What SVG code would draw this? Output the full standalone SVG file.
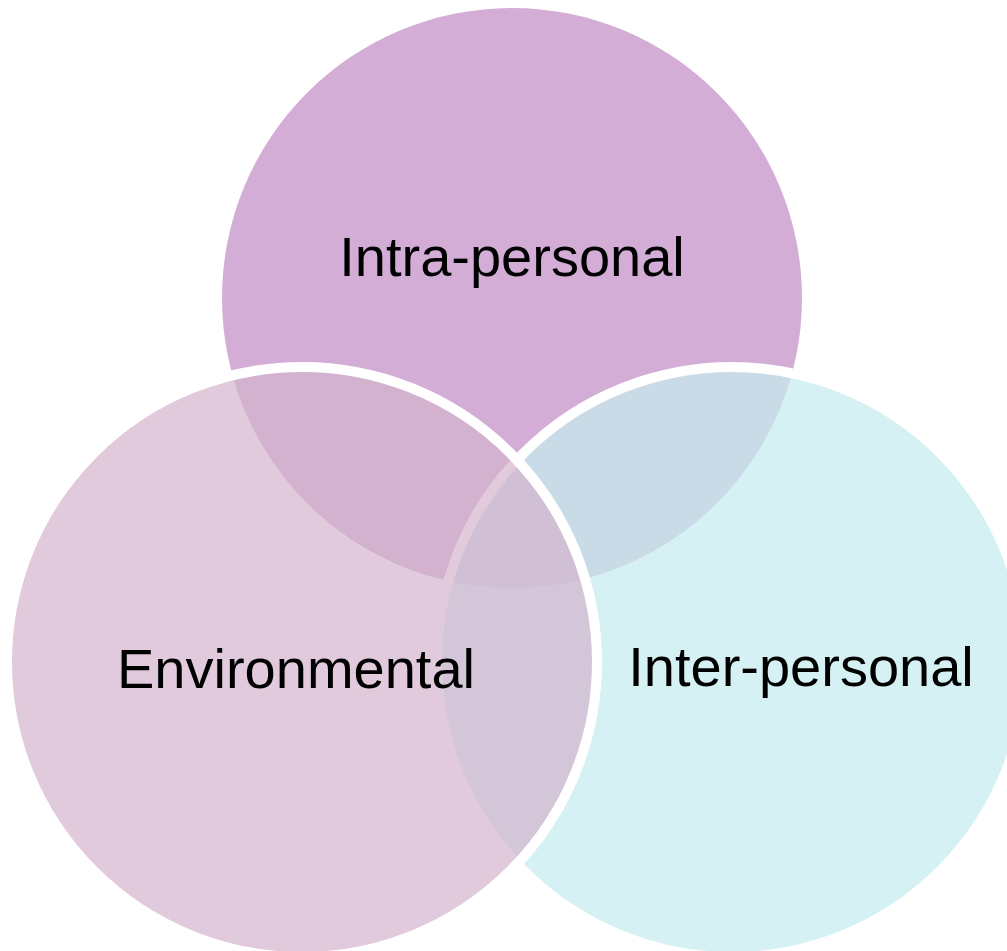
<svg xmlns="http://www.w3.org/2000/svg" width="1007" height="951" viewBox="0 0 1007 951">
  <style>
    .label { font-family: "Liberation Sans", Arial, sans-serif; font-size: 56px; fill: #000000; text-anchor: middle; }
    .ring { stroke: #FFFFFF; stroke-width: 10; }
  </style>
  <rect width="1007" height="951" fill="#FFFFFF"/>
  <!-- Three overlapping sets -->
  <g id="intra-personal">
    <circle cx="512" cy="298" r="290" fill="#D4ADD7"/>
  </g>
  <g id="inter-personal">
    <circle class="ring" cx="732" cy="662" r="295" fill="#C7ECEE" fill-opacity="0.73"/>
  </g>
  <g id="environmental">
    <circle class="ring" cx="302" cy="662" r="295" fill="#D3B3CD" fill-opacity="0.7"/>
  </g>
  <!-- Set names -->
  <g id="labels">
    <text class="label" x="512" y="276">Intra-personal</text>
    <text class="label" x="296" y="688">Environmental</text>
    <text class="label" x="801" y="686">Inter-personal</text>
  </g>
  <g id="connectors"/>
</svg>
